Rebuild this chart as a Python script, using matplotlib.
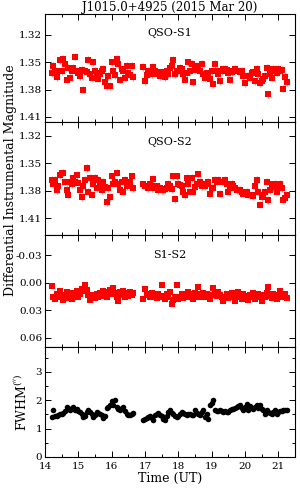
import matplotlib
matplotlib.use('Agg')
import matplotlib.pyplot as plt
from matplotlib.ticker import MultipleLocator

plt.rcParams['font.family'] = 'DejaVu Serif'
plt.rcParams['mathtext.fontset'] = 'dejavuserif'

# observation times (UT hours)
time_ut = [14.20, 14.25, 14.30, 14.35, 14.40, 14.45, 14.50, 14.55, 14.60, 14.65,
           14.70, 14.75, 14.80, 14.85, 14.90, 14.95, 15.00, 15.05, 15.10, 15.15,
           15.20, 15.25, 15.30, 15.35, 15.40, 15.45, 15.50, 15.55, 15.60, 15.65,
           15.70, 15.75, 15.80, 15.85, 15.90, 15.95, 16.00, 16.05, 16.10, 16.15,
           16.20, 16.25, 16.30, 16.35, 16.40, 16.45, 16.50, 16.55, 16.60, 16.65,
           16.95, 17.00, 17.05, 17.10, 17.15, 17.20, 17.25, 17.30, 17.35, 17.40,
           17.45, 17.50, 17.55, 17.60, 17.65, 17.70, 17.75, 17.80, 17.85, 17.90,
           17.95, 18.00, 18.05, 18.10, 18.15, 18.20, 18.25, 18.30, 18.35, 18.40,
           18.45, 18.50, 18.55, 18.60, 18.65, 18.70, 18.75, 18.80, 18.85, 18.90,
           18.95, 19.00, 19.05, 19.10, 19.15, 19.20, 19.25, 19.30, 19.35, 19.40,
           19.45, 19.50, 19.55, 19.60, 19.65, 19.70, 19.75, 19.80, 19.85, 19.90,
           19.95, 20.00, 20.05, 20.10, 20.15, 20.20, 20.25, 20.30, 20.35, 20.40,
           20.45, 20.50, 20.55, 20.60, 20.65, 20.70, 20.75, 20.80, 20.85, 20.90,
           20.95, 21.00, 21.05, 21.10, 21.15, 21.20, 21.25]

qso_s1 = [1.362, 1.354, 1.359, 1.366, 1.360, 1.348, 1.360, 1.346, 1.352, 1.369,
          1.356, 1.367, 1.359, 1.356, 1.344, 1.359, 1.362, 1.365, 1.358, 1.380,
          1.359, 1.361, 1.347, 1.363, 1.367, 1.350, 1.359, 1.362, 1.368, 1.363,
          1.360, 1.357, 1.372, 1.376, 1.365, 1.376, 1.350, 1.359, 1.364, 1.346,
          1.352, 1.369, 1.357, 1.359, 1.367, 1.354, 1.362, 1.364, 1.354, 1.366,
          1.355, 1.371, 1.364, 1.359, 1.362, 1.363, 1.355, 1.360, 1.361, 1.363,
          1.365, 1.361, 1.362, 1.366, 1.359, 1.363, 1.356, 1.354, 1.347, 1.363,
          1.359, 1.360, 1.356, 1.357, 1.363, 1.369, 1.362, 1.350, 1.360, 1.352,
          1.372, 1.358, 1.354, 1.357, 1.360, 1.352, 1.363, 1.367, 1.362, 1.362,
          1.368, 1.360, 1.374, 1.352, 1.359, 1.363, 1.371, 1.360, 1.357, 1.357,
          1.358, 1.362, 1.369, 1.361, 1.360, 1.357, 1.359, 1.360, 1.361, 1.359,
          1.365, 1.373, 1.365, 1.365, 1.367, 1.362, 1.361, 1.371, 1.357, 1.363,
          1.373, 1.371, 1.368, 1.365, 1.356, 1.385, 1.363, 1.367, 1.357, 1.359,
          1.362, 1.357, 1.359, 1.358, 1.379, 1.366, 1.372]

qso_s2 = [1.368, 1.372, 1.368, 1.379, 1.375, 1.363, 1.360, 1.360, 1.370, 1.379,
          1.384, 1.370, 1.373, 1.366, 1.370, 1.363, 1.371, 1.379, 1.387, 1.375,
          1.368, 1.355, 1.381, 1.366, 1.384, 1.372, 1.366, 1.377, 1.368, 1.373,
          1.379, 1.370, 1.376, 1.392, 1.377, 1.387, 1.364, 1.372, 1.370, 1.360,
          1.372, 1.379, 1.370, 1.381, 1.368, 1.375, 1.372, 1.370, 1.364, 1.377,
          1.373, 1.375, 1.375, 1.377, 1.373, 1.377, 1.367, 1.375, 1.375, 1.379,
          1.377, 1.379, 1.379, 1.378, 1.377, 1.372, 1.375, 1.378, 1.364, 1.389,
          1.364, 1.372, 1.374, 1.375, 1.381, 1.385, 1.366, 1.373, 1.381, 1.366,
          1.381, 1.376, 1.373, 1.362, 1.370, 1.375, 1.372, 1.375, 1.372, 1.370,
          1.383, 1.377, 1.377, 1.368, 1.370, 1.368, 1.383, 1.370, 1.370, 1.368,
          1.373, 1.381, 1.377, 1.372, 1.375, 1.377, 1.379, 1.379, 1.379, 1.381,
          1.383, 1.382, 1.381, 1.384, 1.385, 1.385, 1.386, 1.375, 1.368, 1.381,
          1.395, 1.387, 1.384, 1.381, 1.370, 1.390, 1.379, 1.373, 1.376, 1.372,
          1.381, 1.376, 1.372, 1.377, 1.390, 1.388, 1.385]

s1_s2 = [0.004, 0.015, 0.018, 0.012, 0.016, 0.009, 0.013, 0.019, 0.014, 0.010,
         0.017, 0.013, 0.018, 0.011, 0.015, 0.009, 0.016, 0.012, 0.007, 0.009,
         0.003, 0.008, 0.013, 0.019, 0.015, 0.013, 0.017, 0.012, 0.015, 0.011,
         0.014, 0.009, 0.012, 0.016, 0.010, 0.008, 0.012, 0.006, 0.011, 0.015,
         0.020, 0.010, 0.013, 0.009, 0.015, 0.011, 0.014, 0.010, 0.013, 0.011,
         0.018, 0.007, 0.013, 0.012, 0.016, 0.011, 0.015, 0.013, 0.017, 0.012,
         0.016, 0.003, 0.014, 0.018, 0.012, 0.015, 0.010, 0.023, 0.019, 0.016,
         0.003, 0.018, 0.015, 0.012, 0.017, 0.013, 0.016, 0.010, 0.014, 0.012,
         0.018, 0.011, 0.015, 0.005, 0.012, 0.016, 0.011, 0.014, 0.012, 0.015,
         0.018, 0.013, 0.006, 0.012, 0.014, 0.010, 0.013, 0.016, 0.020, 0.015,
         0.012, 0.017, 0.014, 0.011, 0.016, 0.020, 0.013, 0.010, 0.015, 0.018,
         0.012, 0.016, 0.014, 0.019, 0.013, 0.016, 0.011, 0.018, 0.014, 0.012,
         0.016, 0.020, 0.013, 0.015, 0.011, 0.005, 0.014, 0.017, 0.012, 0.015,
         0.018, 0.013, 0.009, 0.014, 0.016, 0.012, 0.017]

fwhm = [1.42, 1.65, 1.44, 1.44, 1.47, 1.50, 1.53, 1.56, 1.62, 1.76,
        1.70, 1.67, 1.72, 1.76, 1.65, 1.70, 1.62, 1.57, 1.53, 1.41,
        1.44, 1.60, 1.67, 1.59, 1.50, 1.41, 1.47, 1.59, 1.55, 1.51,
        1.47, 1.39, 1.44, 1.72, 1.78, 1.82, 1.98, 1.82, 2.00, 1.76,
        1.70, 1.65, 1.72, 1.76, 1.62, 1.51, 1.47, 1.49, 1.52, 1.55,
        1.32, 1.35, 1.39, 1.41, 1.44, 1.38, 1.32, 1.47, 1.53, 1.55,
        1.49, 1.43, 1.35, 1.29, 1.44, 1.59, 1.65, 1.55, 1.51, 1.46,
        1.41, 1.44, 1.50, 1.59, 1.56, 1.51, 1.47, 1.53, 1.50, 1.48,
        1.47, 1.65, 1.55, 1.50, 1.49, 1.59, 1.65, 1.41, 1.50, 1.35,
        1.82, 1.90, 2.02, 1.65, 1.62, 1.63, 1.65, 1.61, 1.59, 1.62,
        1.60, 1.59, 1.65, 1.68, 1.70, 1.74, 1.76, 1.79, 1.82, 1.74,
        1.65, 1.76, 1.88, 1.67, 1.79, 1.74, 1.70, 1.76, 1.82, 1.72,
        1.82, 1.70, 1.65, 1.53, 1.67, 1.60, 1.55, 1.53, 1.60, 1.65,
        1.53, 1.59, 1.62, 1.63, 1.65, 1.66, 1.67]

# typical photometric errors
err_qso = 0.004
err_diff = 0.002

labels = ['QSO-S1', 'QSO-S2', 'S1-S2']
series = [qso_s1, qso_s2, s1_s2]
errs = [err_qso, err_qso, err_diff]
yticks = [[1.32, 1.35, 1.38, 1.41], [1.32, 1.35, 1.38, 1.41], [-0.03, 0.00, 0.03, 0.06]]
ylims = [(1.4155, 1.297), (1.428, 1.305), (0.070, -0.052)]

fig = plt.figure(figsize=(3.0, 4.91), dpi=100)
H = 491.0
edges = [14, 122, 235, 347, 457]
axes = []
for i in range(4):
    top, bot = edges[i], edges[i + 1]
    ax = fig.add_axes([45 / 300, 1 - bot / H, 250 / 300, (bot - top) / H])
    axes.append(ax)

for ax, y, e, lab, yt, yl in zip(axes[:3], series, errs, labels, yticks, ylims):
    ax.errorbar(time_ut, y, yerr=e, fmt='s', color='red', ms=4.0, mew=0,
                ecolor='#ff8c8c', elinewidth=0.9, capsize=0)
    ax.set_ylim(*yl)
    ax.set_yticks(yt)
    ax.set_yticklabels(['%.2f' % v for v in yt])
    ax.text(0.5, 0.825, lab, transform=ax.transAxes, ha='center', va='center', fontsize=8)

ax4 = axes[3]
ax4.plot(time_ut, fwhm, 'o', color='black', ms=4.0, mew=0)
ax4.set_ylim(0, 3.88)
ax4.set_yticks([0, 1, 2, 3])
ax4.yaxis.set_minor_locator(MultipleLocator(0.5))
ax4.set_ylabel(r"FWHM$^{('')}$", fontsize=9, labelpad=4)

for ax in axes:
    ax.set_xlim(14, 21.5)
    ax.xaxis.set_major_locator(MultipleLocator(1))
    ax.xaxis.set_minor_locator(MultipleLocator(0.5))
    ax.tick_params(which='both', direction='in', top=True, right=True, labelsize=7.5, pad=2)
    ax.tick_params(which='major', length=4, width=0.7)
    ax.tick_params(which='minor', length=2, width=0.7)
    for s in ax.spines.values():
        s.set_linewidth(0.8)
    if ax is not ax4:
        ax.set_xticklabels([])
ax4.tick_params(axis='x', pad=3.5)

ax4.set_xlabel('Time (UT)', fontsize=9, labelpad=1)
fig.text(170 / 300, 1 - 7.5 / H, 'J1015.0+4925 (2015 Mar 20)', ha='center', va='center',
         fontsize=8.5)
fig.text(0.035, 1 - 180 / H, 'Differential Instrumental Magnitude', rotation=90,
         ha='center', va='center', fontsize=9)

fig.savefig('out.png', dpi=100)
